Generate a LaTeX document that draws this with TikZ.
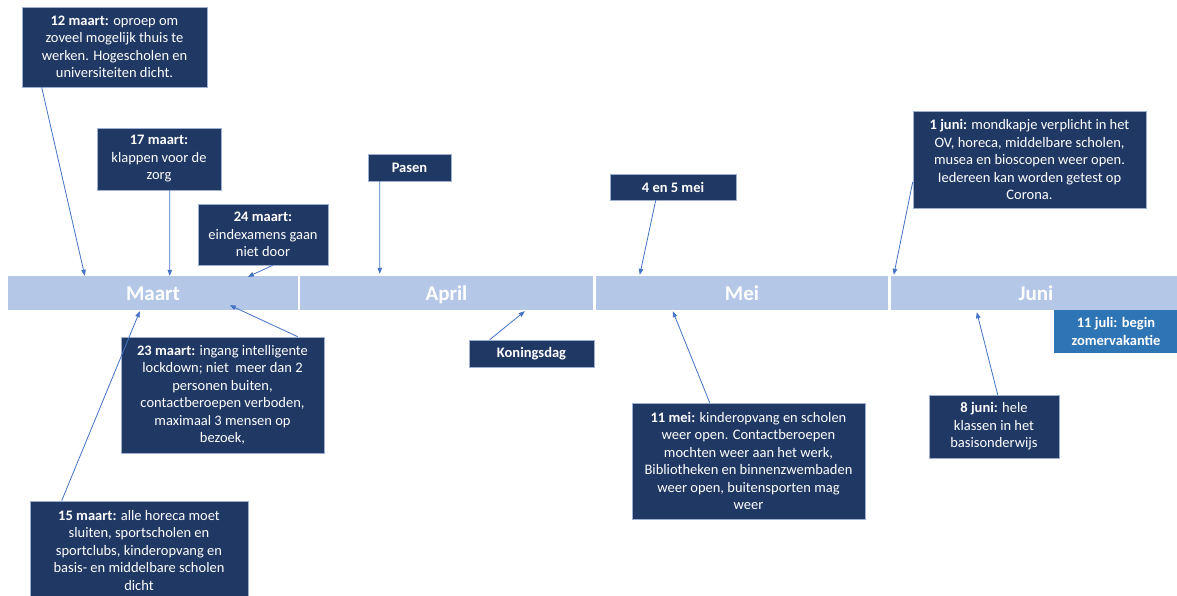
\documentclass[tikz,border=0pt]{standalone}
\usepackage{fontspec}
\setmainfont{Carlito}
\usetikzlibrary{arrows.meta}
\definecolor{navy}{HTML}{203864}
\definecolor{navyedge}{HTML}{9DB0D3}
\definecolor{barblue}{HTML}{B4C7E7}
\definecolor{midblue}{HTML}{2E75B6}
\definecolor{arrblue}{HTML}{4472C4}
\tikzset{
  evbox/.style={draw=navyedge, line width=0.6pt, fill=navy, text=white, align=center,
    inner sep=0pt, font=\fontsize{14.5}{17.5}\selectfont},
  julibox/.style={fill=midblue, text=white, align=center, inner sep=0pt,
    font=\fontsize{14.5}{17.5}\selectfont\bfseries},
  month/.style={fill=barblue, text=white, inner sep=0pt, minimum height=34pt,
    text height=14pt, text depth=0pt,
    font=\fontsize{21}{24}\selectfont\bfseries},
  arr/.style={draw=arrblue, line width=0.8pt, -{Triangle[length=6pt,width=4.5pt]}}
}
\begin{document}
\begin{tikzpicture}[x=1pt,y=-1pt]
\useasboundingbox (0,0) rectangle (1177,595);
\clip (0,0) rectangle (1177,595);
\fill[white] (0,0) rectangle (1177,595);
% timeline
\node[month, minimum width=290pt] (maart) at (153,293) {Maart};
\node[month, minimum width=293pt] (april) at (446.5,293) {April};
\node[month, minimum width=292pt] (mei) at (742,293) {Mei};
\node[month, minimum width=290pt] (juni) at (1036,293) {Juni};
% boxes
\node[evbox, minimum width=185pt, minimum height=80pt] (b12m) at (114.5,47)
  {\textbf{12 maart:} oproep om\\zoveel mogelijk thuis te\\werken. Hogescholen en\\universiteiten dicht.};
\node[evbox, minimum width=124pt, minimum height=62pt] (b17m) at (159,159)
  {\textbf{17 maart:}\\klappen voor de\\zorg};
\node[evbox, minimum width=130pt, minimum height=61pt] (b24m) at (263,234.5)
  {\textbf{24 maart:}\\eindexamens gaan\\niet door};
\node[evbox, minimum width=83pt, minimum height=27pt] (pasen) at (409.5,167.5)
  {\textbf{Pasen}};
\node[evbox, minimum width=126pt, minimum height=26pt] (mei45) at (673,187)
  {\textbf{4 en 5 mei}};
\node[evbox, minimum width=233pt, minimum height=97pt] (j1) at (1029.5,159.5)
  {\textbf{1 juni:} mondkapje verplicht in het\\OV, horeca, middelbare scholen,\\musea en bioscopen weer open.\\Iedereen kan worden getest op\\Corona.};
\node[julibox, minimum width=124pt, minimum height=43pt] (juli) at (1116,331.5)
  {11 juli: begin\\zomervakantie};
\node[evbox, minimum width=203pt, minimum height=116pt] (b23m) at (222.5,395)
  {\textbf{23 maart:} ingang intelligente\\lockdown; niet\ \ meer dan 2\\personen buiten,\\contactberoepen verboden,\\maximaal 3 mensen op\\bezoek,};
\node[evbox, minimum width=125pt, minimum height=27pt] (kon) at (531.5,353.5)
  {\textbf{Koningsdag}};
\node[evbox, minimum width=233pt, minimum height=116pt] (m11) at (748.5,461)
  {\textbf{11 mei:} kinderopvang en scholen\\weer open. Contactberoepen\\mochten weer aan het werk,\\Bibliotheken en binnenzwembaden\\weer open, buitensporten mag\\weer};
\node[evbox, minimum width=130pt, minimum height=63pt] (j8) at (994,426.5)
  {\textbf{8 juni:} hele\\klassen in het\\basisonderwijs};
\node[evbox, minimum width=218pt, minimum height=99pt] (b15m) at (139,550.5)
  {\textbf{15 maart:} alle horeca moet\\sluiten, sportscholen en\\sportclubs, kinderopvang en\\basis- en middelbare scholen\\dicht};
% connectors
\draw[arr] ([xshift=20pt]b12m.south west) -- ([xshift=77pt]maart.north west);
\draw[arr] ([xshift=73pt]b17m.south west) -- ([xshift=162pt]maart.north west);
\draw[arr] ([xshift=75pt]b24m.south west) -- ([xshift=240pt,yshift=-1pt]maart.north west);
\draw[arr] ([xshift=12pt]pasen.south west) -- ([xshift=80pt,yshift=2pt]april.north west);
\draw[arr] ([xshift=46pt]mei45.south west) -- ([xshift=44pt,yshift=1pt]mei.north west);
\draw[arr] ([yshift=-22.5pt]j1.west) -- ([xshift=3pt,yshift=1pt]juni.north west);
\draw[arr] ([xshift=177pt]b23m.north west) -- ([xshift=222pt,yshift=5pt]maart.south west);
\draw[arr] ([xshift=32pt]b15m.north west) -- ([xshift=132pt,yshift=-1pt]maart.south west);
\draw[arr] ([xshift=21pt]kon.north west) -- ([xshift=225pt,yshift=-1pt]april.south west);
\draw[arr] ([xshift=78pt]m11.north west) -- ([xshift=77pt,yshift=-1pt]mei.south west);
\draw[arr] ([xshift=69pt]j8.north west) -- ([xshift=86pt,yshift=-2pt]juni.south west);
\end{tikzpicture}
\end{document}
